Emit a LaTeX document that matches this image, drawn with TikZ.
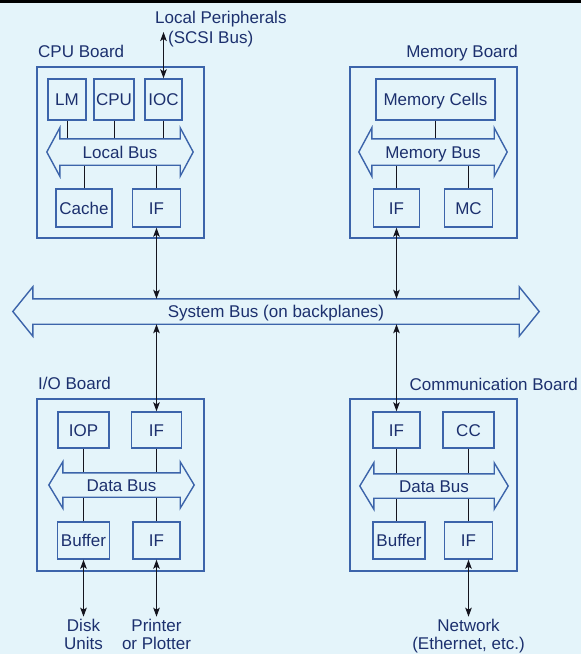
\documentclass[tikz,border=0pt]{standalone}
\usepackage{fontspec}
\setmainfont{Liberation Sans}
\usetikzlibrary{arrows.meta, calc, positioning}

\definecolor{bgblue}{RGB}{228,244,250}
\definecolor{boxblue}{RGB}{60,100,170}
\definecolor{txtblue}{RGB}{28,48,110}
\definecolor{wireblk}{RGB}{20,20,30}

\begin{document}
\begin{tikzpicture}[x=1pt, y=-1pt, font=\fontsize{17}{18.5}\selectfont,
    every node/.style={text=txtblue},
    board/.style 2 args={draw=boxblue, line width=1.5pt, minimum width=#1pt, minimum height=#2pt, inner sep=0pt},
    unit/.style 2 args={draw=boxblue, line width=1.4pt, minimum width=#1pt, minimum height=#2pt, inner sep=0pt, text height=12.2pt, text depth=0pt},
    bus/.style 2 args={minimum width=#1pt, minimum height=#2pt, inner sep=0pt, text height=12.2pt, text depth=0pt},
    busline/.style={draw=boxblue, line width=1.4pt, line join=miter},
    wire/.style={draw=wireblk, line width=1pt},
    link/.style={draw=wireblk, line width=1.3pt, {Stealth[length=9pt,width=6.5pt,inset=2pt]}-{Stealth[length=9pt,width=6.5pt,inset=2pt]}},
    lbl/.style={inner sep=0pt}]

    % --- BACKGROUND ---
    \fill[bgblue] (0,0) rectangle (581,654);
    \fill[black] (0,0) rectangle (581,3);
    \useasboundingbox (0,0) rectangle (581,654);

    % --- BOARDS ---
    \node[board={167}{171}] (cpub) at (120.5,152.5) {};
    \node[board={167}{171}] (memb) at (433.5,152.5) {};
    \node[board={167}{172}] (iob) at (120.5,485) {};
    \node[board={167}{172}] (comb) at (433.5,485) {};

    \node[lbl, anchor=base west] (cpulbl) at (38,57) {CPU Board};
    \node[lbl, anchor=base east] (memlbl) at (518,57) {Memory Board};
    \node[lbl, anchor=base west] (iolbl) at (38,389) {I/O Board};
    \node[lbl, anchor=base east] (comlbl) at (578,390) {Communication Board};

    % --- CPU BOARD ---
    \node[unit={38}{41}] (lm) at (67,99.5) {LM};
    \node[unit={40}{41}] (cpu) at (114,99.5) {CPU};
    \node[unit={37}{41}] (ioc) at (163.5,99.5) {IOC};
    \node[bus={120}{26}] (lbus) at (120,152) {Local Bus};
    \node[unit={56}{38}] (cache) at (84,208) {Cache};
    \node[unit={48}{38}] (cpuif) at (156.5,208) {IF};

    \draw[wire] (lm.south) -- (lm.south |- lbus.north);
    \draw[wire] (cpu.south) -- (cpu.south |- lbus.north);
    \draw[wire] (ioc.south) -- (ioc.south |- lbus.north);
    \draw[wire] (cache.north) -- (cache.north |- lbus.south);
    \draw[wire] (cpuif.north) -- (cpuif.north |- lbus.south);

    % Local peripherals
    \coordinate (scsi) at (163.5,32);
    \draw[link] (ioc.north) -- (scsi);
    \node[lbl, anchor=base west] (periph) at (155,23) {Local Peripherals};
    \node[lbl, anchor=base west] (scsilbl) at (168,43) {(SCSI Bus)};

    % --- MEMORY BOARD ---
    \node[unit={119}{41}] (cells) at (435.5,99.5) {Memory Cells};
    \node[bus={122}{26}] (mbus) at (433,152) {Memory Bus};
    \node[unit={46}{38}] (memif) at (396.5,208) {IF};
    \node[unit={48}{38}] (mc) at (468.5,208) {MC};

    \draw[wire] (cells.south) -- (cells.south |- mbus.north);
    \draw[wire] (memif.north) -- (memif.north |- mbus.south);
    \draw[wire] (mc.north) -- (mc.north |- mbus.south);

    % --- SYSTEM BUS ---
    \node[bus={486}{25}] (sbus) at (276,311.5) {System Bus (on backplanes)};

    % --- I/O BOARD ---
    \node[unit={51}{36}] (iop) at (83.5,430) {IOP};
    \node[unit={50}{36}] (ioif) at (156.5,430) {IF};
    \node[bus={117}{24}] (dbus) at (121.5,485) {Data Bus};
    \node[unit={52}{37}] (buffer) at (83.5,540.5) {Buffer};
    \node[unit={47}{37}] (ioif2) at (156.5,540.5) {IF};

    \draw[wire] (iop.south) -- (iop.south |- dbus.north);
    \draw[wire] (ioif.south) -- (ioif.south |- dbus.north);
    \draw[wire] (buffer.north) -- (buffer.north |- dbus.south);
    \draw[wire] (ioif2.north) -- (ioif2.north |- dbus.south);

    % --- COMMUNICATION BOARD ---
    \node[unit={47}{36}] (comif) at (396.5,430) {IF};
    \node[unit={51}{36}] (cc) at (468.5,430) {CC};
    \node[bus={120}{24}] (cbus) at (434,486) {Data Bus};
    \node[unit={52}{37}] (cbuffer) at (399,540.5) {Buffer};
    \node[unit={48}{37}] (comif2) at (468.5,540.5) {IF};

    \draw[wire] (comif.south) -- (comif.south |- cbus.north);
    \draw[wire] (cc.south) -- (cc.south |- cbus.north);
    \draw[wire] (cbus.south -| comif.south) -- (cbuffer.north -| comif.south);
    \draw[wire] (comif2.north) -- (comif2.north |- cbus.south);

    % Bus outlines (shaft = bus node, heads added)
    \foreach \b/\t/\e in {lbus/13/11, mbus/13/11, dbus/14/11, cbus/14/11, sbus/20/12}
        \draw[busline] (\b.north west) -- ++(0,-\e) -- ($(\b.west)+(-\t,0)$)
            -- ($(\b.south west)+(0,\e)$) -- (\b.south west) -- (\b.south east)
            -- ++(0,\e) -- ($(\b.east)+(\t,0)$) -- ($(\b.north east)+(0,-\e)$)
            -- (\b.north east) -- cycle;

    % --- LINKS TO SYSTEM BUS ---
    \draw[link] (cpuif.south) -- (cpuif.south |- sbus.north);
    \draw[link] (memif.south) -- (memif.south |- sbus.north);
    \draw[link] (ioif.north) -- (ioif.north |- sbus.south);
    \draw[link] (comif.north) -- (comif.north |- sbus.south);

    % --- EXTERNAL DEVICES ---
    \coordinate (diskend) at ($(buffer.south)+(0,57)$);
    \coordinate (printend) at ($(ioif2.south)+(0,57)$);
    \coordinate (netend) at ($(comif2.south)+(0,57)$);
    \draw[link] (buffer.south) -- (diskend);
    \draw[link] (ioif2.south) -- (printend);
    \draw[link] (comif2.south) -- (netend);

    \node[lbl, anchor=north, align=center] (disk) at ($(diskend)+(0,2)$) {Disk\\Units};
    \node[lbl, anchor=north, align=center] (printer) at ($(printend)+(0,2)$) {Printer\\or Plotter};
    \node[lbl, anchor=north, align=center] (network) at ($(netend)+(0,2)$) {Network\\(Ethernet, etc.)};
\end{tikzpicture}
\end{document}
